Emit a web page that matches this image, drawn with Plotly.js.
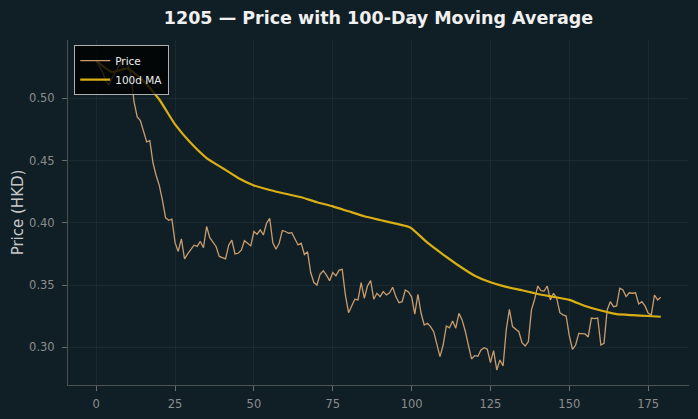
<!DOCTYPE html>
<html>
<head>
<meta charset="utf-8">
<script src="https://cdn.plot.ly/plotly-3.0.1.min.js"></script>
<style>
  html, body { margin: 0; padding: 0; background: #101f26; }
  #chart { width: 698px; height: 419px; }
</style>
</head>
<body>
<div id="chart"></div>
<script>
// Daily closing price of 1205 (HKD), one value per trading day
const priceValues = [
  0.530, 0.526, 0.521, 0.514, 0.511, 0.516, 0.521, 0.525, 0.529, 0.532,
  0.527, 0.519, 0.497, 0.485, 0.482, 0.473, 0.465, 0.466, 0.448, 0.438,
  0.430, 0.418, 0.404, 0.402, 0.403, 0.384, 0.377, 0.387, 0.371, 0.375,
  0.379, 0.382, 0.381, 0.385, 0.380, 0.397, 0.388, 0.384, 0.381, 0.373,
  0.372, 0.371, 0.382, 0.386, 0.375, 0.3755, 0.378, 0.3856, 0.3835, 0.3814,
  0.393, 0.3908, 0.3942, 0.3902, 0.3996, 0.4036, 0.384, 0.3787, 0.3835, 0.3937,
  0.393, 0.3916, 0.392, 0.3876, 0.3822, 0.3835, 0.3745, 0.3768, 0.360, 0.352,
  0.350, 0.3587, 0.3615, 0.358, 0.3535, 0.360, 0.3573, 0.362, 0.3626, 0.342,
  0.3278, 0.3332, 0.3386, 0.338, 0.3519, 0.3394, 0.3492, 0.3535, 0.3386, 0.3434,
  0.3407, 0.3447, 0.342, 0.3438, 0.3482, 0.3407, 0.3358, 0.3366, 0.346, 0.3444,
  0.3405, 0.3267, 0.3426, 0.3273, 0.3179, 0.3193, 0.3166, 0.3125, 0.3018, 0.2925,
  0.3018, 0.3171, 0.3157, 0.3211, 0.3153, 0.3273, 0.322, 0.3131, 0.3018, 0.2906,
  0.2933, 0.2928, 0.2978, 0.2997, 0.2984, 0.2876, 0.2973, 0.2818, 0.2898, 0.285,
  0.3139, 0.3305, 0.3166, 0.3145, 0.3125, 0.3037, 0.301, 0.3045, 0.330, 0.3386,
  0.3492, 0.3455, 0.3452, 0.3492, 0.338, 0.3434, 0.3394, 0.3278, 0.326, 0.3251,
  0.3091, 0.2984, 0.3018, 0.3112, 0.3112, 0.3107, 0.3083, 0.3235, 0.323, 0.3235,
  0.3018, 0.3032, 0.330, 0.3366, 0.3326, 0.3332, 0.3474, 0.346, 0.3407, 0.3438,
  0.3434, 0.3438, 0.3348, 0.3366, 0.3332, 0.3273, 0.326, 0.342, 0.338, 0.3402
];
const priceDays = priceValues.map((_, i) => i);

// 100-day moving average, sampled along the day axis
const maDays = [
  0, 5, 10, 15, 20, 25, 30, 35, 40, 45, 50, 55, 60, 65, 70, 75, 80, 85, 90, 95,
  99, 100, 105, 110, 115, 120, 125, 130, 135, 140, 145, 150, 155, 160, 165, 170, 175, 179
];
const maValues = [
  0.530, 0.521, 0.524, 0.514, 0.499, 0.479, 0.464, 0.452, 0.444, 0.436,
  0.430, 0.4263, 0.4233, 0.4205, 0.4165, 0.4132, 0.4092, 0.4052, 0.4022, 0.3993,
  0.3968, 0.3955, 0.3840, 0.3745, 0.3655, 0.3575, 0.3522, 0.3485, 0.3458, 0.3428,
  0.3405, 0.3381, 0.3332, 0.3295, 0.3266, 0.3258, 0.3251, 0.3245
];

const xTicks = [0, 25, 50, 75, 100, 125, 150, 175];
const yTicks = [0.30, 0.35, 0.40, 0.45, 0.50];

const bg = '#101f26';
const font = 'DejaVu Sans, Verdana, sans-serif';

const traces = [
  {
    x: priceDays, y: priceValues, name: 'Price', type: 'scatter', mode: 'lines',
    line: { color: '#c99c6e', width: 1.3 }
  },
  {
    x: maDays, y: maValues, name: '100d MA', type: 'scatter', mode: 'lines',
    line: { color: '#d9af14', width: 2.2, shape: 'spline', smoothing: 0.4 }
  }
];

const layout = {
  width: 698, height: 419,
  paper_bgcolor: bg, plot_bgcolor: bg,
  font: { family: font, color: '#8c8c8c', size: 11.5 },
  margin: { l: 68, r: 9, t: 40, b: 34 },
  title: {
    text: '<b>1205 — Price with 100-Day Moving Average</b>',
    font: { family: font, size: 17.5, color: '#f0f0f0' },
    x: 0.5, xref: 'paper', xanchor: 'center',
    y: 0.957, yref: 'container', yanchor: 'middle'
  },
  xaxis: {
    range: [-8.95, 187.95],
    tickvals: xTicks, ticktext: xTicks.map(String),
    ticks: 'outside', ticklen: 5, tickcolor: '#6a6a6a', tickwidth: 1,
    showline: true, linecolor: '#4f5052', linewidth: 1, mirror: false,
    showgrid: true, gridcolor: 'rgba(255,255,255,0.045)', gridwidth: 1,
    zeroline: false, ticklabelstandoff: 3,
    tickfont: { family: font, size: 11.5, color: '#8c8c8c' }
  },
  yaxis: {
    range: [0.2697, 0.5468],
    tickvals: yTicks, ticktext: yTicks.map(v => v.toFixed(2)),
    ticks: 'outside', ticklen: 5, tickcolor: '#6a6a6a', tickwidth: 1,
    showline: true, linecolor: '#4f5052', linewidth: 1, mirror: false,
    showgrid: true, gridcolor: 'rgba(255,255,255,0.045)', gridwidth: 1,
    zeroline: false, ticklabelstandoff: 5,
    tickfont: { family: font, size: 11.5, color: '#8c8c8c' },
    title: {
      text: 'Price (HKD)', standoff: 1,
      font: { family: font, size: 15, color: '#c8c8c8' }
    }
  },
  showlegend: true,
  legend: {
    x: 0.01, y: 0.985, xanchor: 'left', yanchor: 'top',
    bgcolor: 'rgba(0,0,0,0.8)', bordercolor: '#b0b0b0', borderwidth: 1,
    font: { family: font, size: 10.5, color: '#ececec' },
    tracegroupgap: 0, itemwidth: 30
  }
};

Plotly.newPlot('chart', traces, layout, { displayModeBar: false, staticPlot: true });
</script>
</body>
</html>
